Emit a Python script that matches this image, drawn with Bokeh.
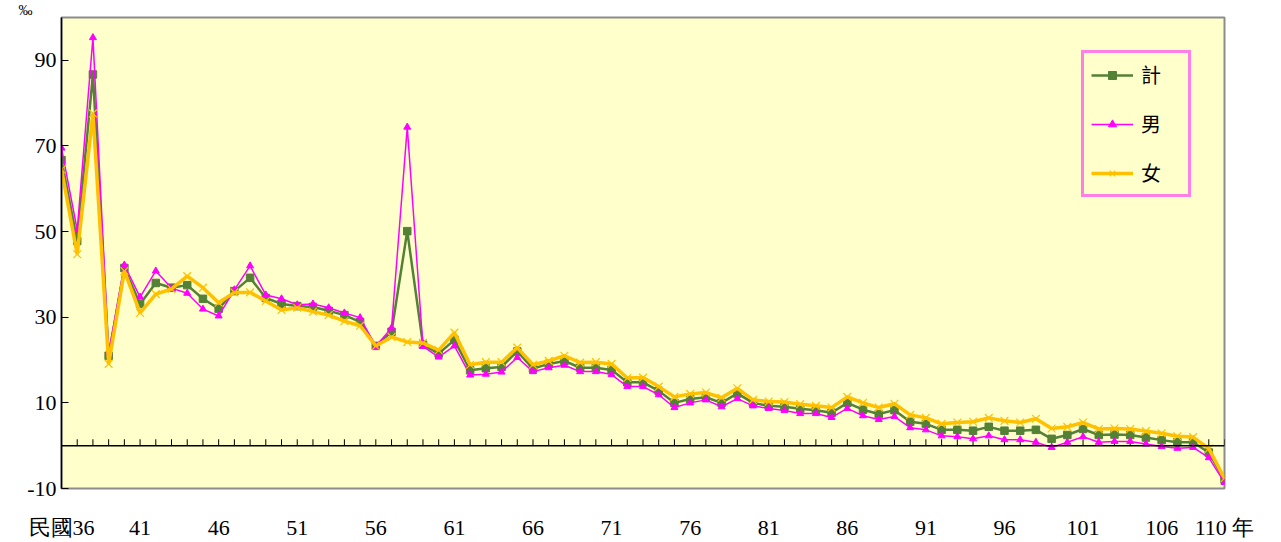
from bokeh.plotting import figure
from bokeh.models import Range1d, FixedTicker, Span, Legend, LegendItem
from bokeh.embed import file_html
from bokeh.resources import INLINE

years = list(range(36, 111))
label_years = [36, 41, 46, 51, 56, 61, 66, 71, 76, 81, 86, 91, 96, 101, 106, 110]
y_ticks = [-10, 10, 30, 50, 70, 90]

total = [66.7, 47.8, 86.7, 21.0, 41.5, 33.1, 38.0, 36.9, 37.5, 34.3,
         32.0, 36.1, 39.2, 34.5, 33.1, 32.6, 32.4, 31.5, 30.5, 28.9,
         23.3, 26.6, 50.1, 23.6, 21.5, 24.7, 17.6, 18.1, 18.4, 22.0,
         18.0, 19.1, 19.8, 18.2, 18.2, 17.7, 14.8, 14.8, 12.8, 10.0,
         10.9, 11.3, 10.0, 12.2, 10.0, 9.3, 9.1, 8.6, 8.3, 7.7,
         10.0, 8.4, 7.4, 8.3, 5.6, 5.1, 3.7, 3.7, 3.5, 4.4,
         3.5, 3.5, 3.7, 1.6, 2.5, 3.9, 2.5, 2.6, 2.5, 1.9,
         1.3, 0.8, 0.8, -1.6, -7.9]
male = [69.5, 50.4, 95.3, 21.6, 42.2, 34.7, 40.8, 36.8, 35.6, 31.9,
        30.3, 36.4, 42.0, 35.2, 34.3, 32.9, 33.1, 32.2, 31.0, 29.9,
        23.2, 27.5, 74.4, 23.2, 20.7, 23.3, 16.5, 16.7, 17.2, 20.6,
        17.3, 18.2, 18.8, 17.3, 17.3, 16.6, 13.8, 13.8, 11.9, 8.9,
        10.0, 10.7, 9.1, 11.0, 9.3, 8.7, 8.2, 7.5, 7.5, 6.6,
        8.7, 7.0, 6.1, 6.8, 4.2, 3.7, 2.3, 2.1, 1.6, 2.3,
        1.4, 1.4, 0.8, -0.4, 0.8, 2.1, 0.8, 1.0, 1.0, 0.4,
        -0.2, -0.6, -0.4, -2.8, -8.6]
female = [64.5, 44.7, 77.6, 19.1, 40.8, 31.0, 35.4, 36.6, 39.6, 36.9,
          33.4, 35.8, 35.8, 33.8, 31.7, 32.2, 31.3, 30.5, 29.1, 28.0,
          23.3, 25.4, 24.2, 24.0, 22.3, 26.4, 18.9, 19.5, 19.5, 22.9,
          18.9, 19.8, 21.0, 19.4, 19.5, 19.1, 15.8, 15.9, 13.8, 11.4,
          12.1, 12.4, 11.2, 13.4, 10.7, 10.3, 10.2, 9.7, 9.3, 8.9,
          11.4, 10.0, 8.9, 9.8, 7.2, 6.5, 5.1, 5.4, 5.6, 6.5,
          5.8, 5.4, 6.3, 4.0, 4.4, 5.4, 3.9, 4.0, 3.9, 3.4,
          2.9, 2.2, 2.0, -0.7, -7.6]

GREEN = "#538135"
MAGENTA = "#FF00FF"
ORANGE = "#FFC000"
SERIF = "Liberation Serif"

p = figure(width=1273, height=542, output_backend="svg", toolbar_location=None,
           x_range=Range1d(36, 110), y_range=Range1d(-10, 100),
           min_border_left=61, min_border_top=16, min_border_right=49, min_border_bottom=53)
p.background_fill_color = "#FFFFCC"
p.border_fill_color = "white"
p.outline_line_color = "#8C8C8C"
p.outline_line_width = 2
p.xgrid.visible = False
p.ygrid.visible = False

# unit mark above the y axis
p.title.text = "‰"
p.title.align = "left"
p.title.offset = -43
p.title.standoff = 0
p.title.text_font = SERIF
p.title.text_font_size = "14px"
p.title.text_font_style = "normal"
p.title.text_color = "black"

# y axis
p.yaxis.ticker = FixedTicker(ticks=y_ticks)
p.yaxis.major_label_overrides = {-10: "-10"}
p.yaxis.axis_line_color = "black"
p.yaxis.axis_line_width = 1.5
p.yaxis.major_tick_in = 7
p.yaxis.major_tick_out = 0
p.yaxis.major_tick_line_color = "black"
p.yaxis.minor_tick_line_color = None
p.yaxis.major_label_text_font = SERIF
p.yaxis.major_label_text_font_size = "22px"
p.yaxis.major_label_text_color = "black"
p.yaxis.major_label_standoff = 5

# x axis (labels only)
p.xaxis.ticker = FixedTicker(ticks=label_years)
p.xaxis.major_label_overrides = {36: "民國36", 110: "110 年"}
p.xaxis.axis_line_color = None
p.xaxis.major_tick_line_color = None
p.xaxis.minor_tick_line_color = None
p.xaxis.major_label_text_font = SERIF
p.xaxis.major_label_text_font_size = "22px"
p.xaxis.major_label_text_color = "black"
p.xaxis.major_label_standoff = 20

# zero line with category ticks
p.add_layout(Span(location=0, dimension="width", line_color="black", line_width=1.5))
p.segment(x0=years, y0=[0] * len(years), x1=years, y1=[1.5] * len(years),
          line_color="black", line_width=1)

# series
r_tot_l = p.line(years, total, line_color=GREEN, line_width=2.5)
r_tot_m = p.scatter(years, total, marker="square", size=7.5, fill_color=GREEN, line_color=GREEN)
r_male_l = p.line(years, male, line_color=MAGENTA, line_width=1.5)
r_male_m = p.scatter(years, male, marker="triangle", size=7, fill_color=MAGENTA, line_color=MAGENTA)
r_fem_l = p.line(years, female, line_color=ORANGE, line_width=3.5)
r_fem_m = p.scatter(years, female, marker="x", size=11, line_color=ORANGE, line_width=1.2)

legend = Legend(items=[
    LegendItem(label="計", renderers=[r_tot_l, r_tot_m]),
    LegendItem(label="男", renderers=[r_male_l, r_male_m]),
    LegendItem(label="女", renderers=[r_fem_l, r_fem_m]),
], location=(1020, 291))
legend.border_line_color = MAGENTA
legend.border_line_width = 3
legend.background_fill_color = "#FFFFCC"
legend.background_fill_alpha = 1
legend.label_text_font = "Noto Sans CJK TC"
legend.label_text_font_size = "20px"
legend.label_text_color = "black"
legend.glyph_width = 42
legend.glyph_height = 20
legend.label_height = 20
legend.label_width = 40
legend.spacing = 20
legend.padding = 7
legend.margin = 0
legend.label_standoff = 8
p.add_layout(legend, "center")

open("out.html", "w").write(file_html(p, INLINE))
